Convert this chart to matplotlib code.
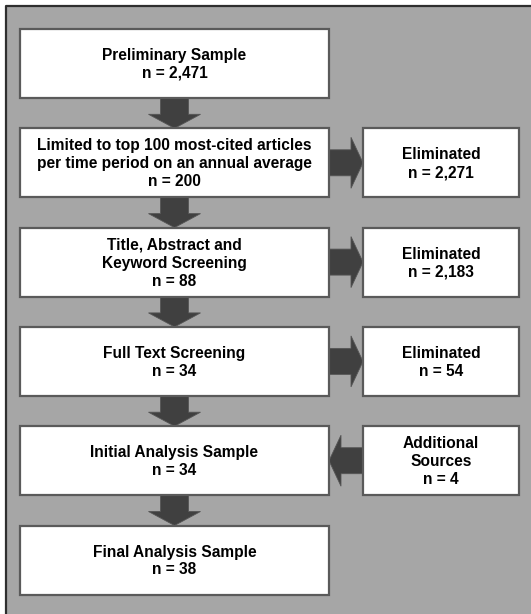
import matplotlib.pyplot as plt
from matplotlib.patches import Rectangle, FancyArrow

plt.rcParams['font.family'] = ['Liberation Sans', 'DejaVu Sans']

# flow steps (main column)
steps = ['Preliminary Sample',
         'Limited to top 100 most-cited articles\nper time period on an annual average',
         'Title, Abstract and\nKeyword Screening',
         'Full Text Screening',
         'Initial Analysis Sample',
         'Final Analysis Sample']
step_n = ['2,471', '200', '88', '34', '34', '38']

# side boxes: (row index, label, n, direction of arrow)
side_rows = [1, 2, 3, 4]
side_labels = ['Eliminated', 'Eliminated', 'Eliminated', 'Additional\nSources']
side_n = ['2,271', '2,183', '54', '4']
side_dir = ['out', 'out', 'out', 'in']

W, H = 531, 614
fig = plt.figure(figsize=(W / 100, H / 100), dpi=100)
ax = fig.add_axes([0, 0, 1, 1])
ax.set_xlim(0, W)
ax.set_ylim(H, 0)
ax.set_axis_off()

BG = '#a6a6a6'
EDGE = '#5a5a5a'
ARROW = '#404040'

fig.patch.set_facecolor('white')
# grey panel, only its top and left border fall inside the picture
ax.add_patch(Rectangle((6, 6), W, H, facecolor=BG, edgecolor='none', zorder=0))
ax.plot([6, 6, W], [H, 6, 6], color='#2e2e2e', lw=1.6, zorder=0.5,
        solid_capstyle='butt')

main_x0, main_x1 = 20, 329
side_x0, side_x1 = 363, 519
top0, box_h, step = 29, 69, 99.3
cx = (main_x0 + main_x1) / 2

def box(x0, x1, y0, text):
    ax.add_patch(Rectangle((x0, y0), x1 - x0, box_h, facecolor='white',
                           edgecolor=EDGE, lw=1.6, zorder=2))
    ax.text((x0 + x1) / 2, y0 + box_h / 2 + 1, text, ha='center', va='center',
            fontsize=11.2, fontweight='bold', linespacing=1.25, color='black', zorder=3)

for i, (s, n) in enumerate(zip(steps, step_n)):
    y0 = top0 + i * step
    box(main_x0, main_x1, y0, s + '\nn = ' + n)
    if i < len(steps) - 1:
        ax.add_patch(FancyArrow(cx, y0 + box_h, 0, step - box_h, width=28,
                                head_width=52, head_length=14,
                                length_includes_head=True, facecolor=ARROW,
                                edgecolor='#555555', lw=0.6, zorder=1))

for r, lab, n, d in zip(side_rows, side_labels, side_n, side_dir):
    y0 = top0 + r * step
    box(side_x0, side_x1, y0, lab + '\nn = ' + n)
    ym = y0 + box_h / 2
    if d == 'out':
        ax.add_patch(FancyArrow(main_x1, ym, side_x0 - main_x1, 0, width=26,
                                head_width=51, head_length=12,
                                length_includes_head=True, facecolor=ARROW,
                                edgecolor='#555555', lw=0.6, zorder=1))
    else:
        ax.add_patch(FancyArrow(side_x0, ym, main_x1 - side_x0, 0, width=26,
                                head_width=51, head_length=12,
                                length_includes_head=True, facecolor=ARROW,
                                edgecolor='#555555', lw=0.6, zorder=1))

fig.savefig('out.png', dpi=100)
